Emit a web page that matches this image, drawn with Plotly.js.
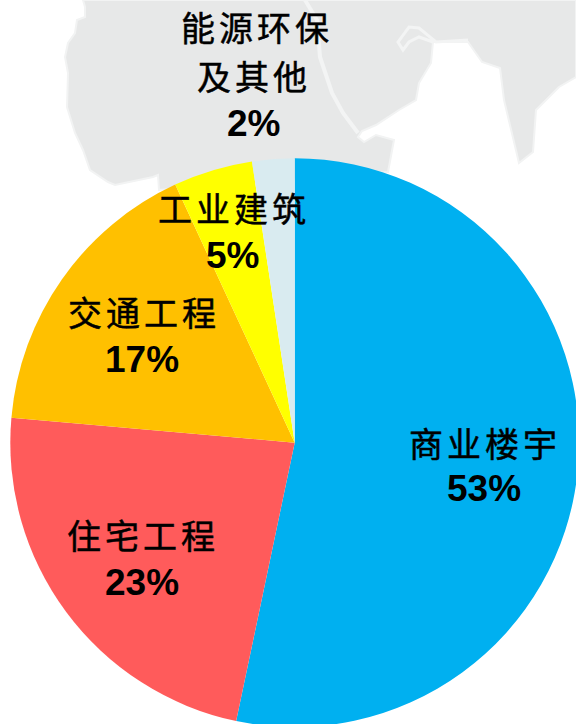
<!DOCTYPE html>
<html>
<head>
<meta charset="utf-8">
<script src="https://cdn.plot.ly/plotly-3.0.1.min.js"></script>
<style>
html,body{margin:0;padding:0;width:576px;height:724px;overflow:hidden;background:#fff}
#chart{width:600px;height:760px}
</style>
</head>
<body>
<div id="chart"></div>
<script>
// Data
var categories = ['商业楼宇', '住宅工程', '交通工程', '工业建筑', '能源环保及其他'];
var sliceValues = [53.3, 23.1, 16.7, 4.5, 2.4];
var percentLabels = ['53%', '23%', '17%', '5%', '2%'];
var sliceColors = ['#00B0F0', '#FF5B5B', '#FFC000', '#FFFF00', '#D9EBF0'];

// Label layout (pixel centres), independent from the data
var nameLines = [['商业楼宇'], ['住宅工程'], ['交通工程'], ['工业建筑'], ['能源环保', '及其他']];
var namePos = [[[483, 442]], [[141, 534]], [[142, 312]], [[232, 208]], [[255, 27], [252, 75]]];
var pctPos = [[484, 488], [142, 582], [142, 360], [232, 256], [253, 123]];

// Canvas is a little larger than the window: the pie runs off its right and bottom edges
var W = 600, H = 760;
var CX = 294.7, CY = 442.7, R = 284.4;

function px(x) { return x / W; }
function py(y) { return 1 - y / H; }

// Decorative world-map backdrop (not data)
var landOutline = [[83,0],[85,7],[85,17],[77,20],[75,33],[68,43],[65,57],[68,73],[67,107],[75,133],[83,150],[90,170],[108,182],[115,185],[153,177],[158,175],[159,190],
  [388,172],[394,140],[376,135],[364,142],[358,137],[362,131],[376,125],[399,110],[416,100],[419,83],[431,63],[433,42],[468,42],[482,62],[500,68],[504,100],[519,163],[533,152],[536,110],[559,87],[576,77],[576,0]];
var redSea = [[305,0],[317,20],[320,57],[332,93],[343,113],[358,133]];
var gulf = [[468,40],[436,42],[419,28],[409,27],[398,42],[403,50],[409,42],[419,37],[433,42]];

function toPath(pts, close) {
  return pts.map(function (p, i) {
    return (i ? 'L' : 'M') + px(p[0]).toFixed(5) + ',' + py(p[1]).toFixed(5);
  }).join(' ') + (close ? ' Z' : '');
}
var shapes = [
  {type:'path', xref:'paper', yref:'paper', layer:'below', path:toPath(landOutline, true), fillcolor:'#E7E8E8', line:{color:'#F2F3F3', width:2}},
  {type:'path', xref:'paper', yref:'paper', layer:'below', path:toPath(redSea, false), line:{color:'#F3F4F4', width:4}},
  {type:'path', xref:'paper', yref:'paper', layer:'below', path:toPath(gulf, false), line:{color:'#F3F4F4', width:3}}
];

var annotations = [];
function addText(text, pos, font, xshift) {
  annotations.push({xref:'paper', yref:'paper', x:px(pos[0]), y:py(pos[1]), xanchor:'center', yanchor:'middle',
    text:text, showarrow:false, font:font, xshift:xshift});
}
var zhFont = {family:'"Noto Sans CJK SC", sans-serif', size:34, color:'#000'};
var pctFont = {family:'"Liberation Sans", Arial, sans-serif', size:37, color:'#000', weight:700};
categories.forEach(function (c, i) {
  nameLines[i].forEach(function (line, j) { addText(line, namePos[i][j], zhFont, 2); });
  addText('<b>' + percentLabels[i] + '</b>', pctPos[i], pctFont, 0);
});

var trace = {
  type:'pie', labels:categories, values:sliceValues, sort:false, direction:'clockwise', rotation:0,
  marker:{colors:sliceColors, line:{width:0}}, textinfo:'none', hoverinfo:'label+percent',
  domain:{x:[px(CX-R), px(CX+R)], y:[py(CY+R), py(CY-R)]}
};
var layout = {
  width:W, height:H, margin:{l:0,r:0,t:0,b:0,pad:0}, showlegend:false,
  paper_bgcolor:'#fff', plot_bgcolor:'#fff', shapes:shapes, annotations:annotations
};
Plotly.newPlot('chart', [trace], layout, {displayModeBar:false, staticPlot:true}).then(function (gd) {
  gd.querySelectorAll('text.annotation-text').forEach(function (t) {
    if (/[\u4e00-\u9fff]/.test(t.textContent)) {
      t.style.letterSpacing = '4px';
      t.style.stroke = '#000';
      t.style.strokeWidth = '0.5px';
    }
  });
});
</script>
</body>
</html>
